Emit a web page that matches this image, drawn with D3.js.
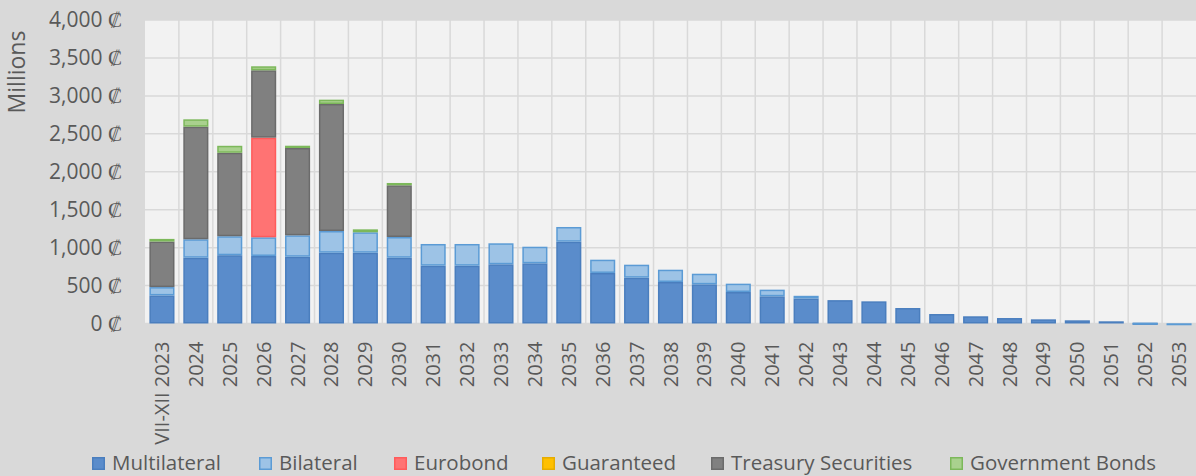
<!DOCTYPE html>
<html>
<head>
<meta charset="utf-8">
<script src="https://cdn.jsdelivr.net/npm/d3@7"></script>
<style>
  html, body { margin: 0; padding: 0; background: #D9D9D9; }
  svg { display: block; font-family: "Open Sans", sans-serif; }
</style>
</head>
<body>
<svg id="chart" width="1196" height="476"></svg>
<script>
const categories = ["VII-XII 2023","2024","2025","2026","2027","2028","2029","2030","2031","2032",
  "2033","2034","2035","2036","2037","2038","2039","2040","2041","2042","2043","2044","2045",
  "2046","2047","2048","2049","2050","2051","2052","2053"];
const multilateral = [370, 867, 900, 890, 880, 933, 933, 867, 762, 762, 780, 793, 1078, 666, 604, 547, 516, 415, 358, 330, 308, 292, 204, 125, 95, 72, 55, 42, 29, 9, 0];
const bilateral =    [110, 243, 250, 246, 282, 286, 269, 273, 286, 286, 277, 219, 194, 175, 171, 162, 140, 110, 88, 35, 0, 0, 0, 0, 0, 0, 0, 0, 0, 2, 3];
const eurobond =     [0, 0, 0, 1313, 0, 0, 0, 0, 0, 0, 0, 0, 0, 0, 0, 0, 0, 0, 0, 0, 0, 0, 0, 0, 0, 0, 0, 0, 0, 0, 0];
const guaranteed =   [0, 0, 0, 0, 0, 0, 0, 0, 0, 0, 0, 0, 0, 0, 0, 0, 0, 0, 0, 0, 0, 0, 0, 0, 0, 0, 0, 0, 0, 0, 0];
const treasury =     [600, 1484, 1100, 888, 1151, 1674, 0, 681, 0, 0, 0, 0, 0, 0, 0, 0, 0, 0, 0, 0, 0, 0, 0, 0, 0, 0, 0, 0, 0, 0, 0];
const govBonds =     [35, 97, 92, 53, 30, 57, 39, 31, 0, 0, 0, 0, 0, 0, 0, 0, 0, 0, 0, 0, 0, 0, 0, 0, 0, 0, 0, 0, 0, 0, 0];
const seriesNames = ["Multilateral","Bilateral","Eurobond","Guaranteed","Treasury Securities","Government Bonds"];
const yTicks = [0, 500, 1000, 1500, 2000, 2500, 3000, 3500, 4000];

const fills   = ["#5A8CCB", "#9DC3E6", "#FF7373", "#FFC000", "#808080", "#A9D18E"];
const strokes = ["#4A7EBE", "#5B9BD5", "#FF5B5B", "#E6AC00", "#6B6B6B", "#7CB85A"];

const seriesData = [multilateral, bilateral, eurobond, guaranteed, treasury, govBonds];
const rows = categories.map((c, i) => {
  const r = { cat: c };
  seriesNames.forEach((s, k) => r[s] = seriesData[k][i]);
  return r;
});
const stacked = d3.stack().keys(seriesNames)(rows);

const svg = d3.select("#chart");
const m = { left: 145, right: 0, top: 20, bottom: 152 };
const W = 1196, H = 476;
const x = d3.scaleBand().domain(categories).range([m.left, W - m.right]).paddingInner(0.26).paddingOuter(0.13);
const y = d3.scaleLinear().domain([0, 4000]).range([323.5, m.top]);

// plot area
svg.append("rect").attr("x", m.left).attr("y", y(4000)).attr("width", W - m.right - m.left)
  .attr("height", y(0) - y(4000)).attr("fill", "#F2F2F2");

// gridlines
const step = x.step();
const gx = svg.append("g");
gx.selectAll("line.h").data(yTicks).join("line")
  .attr("x1", m.left).attr("x2", W - m.right)
  .attr("y1", d => y(d)).attr("y2", d => y(d))
  .attr("stroke", "#D9D9D9").attr("stroke-width", 1.5);
gx.selectAll("line.v").data(categories.slice(1)).join("line")
  .attr("x1", d => x(d) - step * 0.13).attr("x2", d => x(d) - step * 0.13)
  .attr("y1", y(4000)).attr("y2", y(0))
  .attr("stroke", "#D9D9D9").attr("stroke-width", 1.5);

// bars
const bw = x.bandwidth();
svg.append("g").selectAll("g").data(stacked).join("g")
  .each(function(layer, k) {
    d3.select(this).selectAll("rect").data(layer.filter(d => d[1] - d[0] > 0)).join("rect")
      .attr("x", d => x(d.data.cat) + 0.75)
      .attr("width", bw - 1.5)
      .attr("y", d => y(d[1]) + 0.75)
      .attr("height", d => Math.max(0.5, y(d[0]) - y(d[1]) - 1.5))
      .attr("fill", fills[k])
      .attr("stroke", strokes[k])
      .attr("stroke-width", 1.5);
  });

// y axis labels
const yAxis = d3.axisLeft(y).tickValues(yTicks).tickSize(0).tickPadding(0)
  .tickFormat(d => d3.format(",")(d) + " \u20A1");
const ya = svg.append("g").attr("transform", `translate(122,0)`).call(yAxis);
ya.select(".domain").remove();
ya.selectAll("text").attr("font-size", 21).attr("fill", "#595959").attr("font-family", "Open Sans");

// y title
svg.append("text").attr("transform", "translate(25,72) rotate(-90)")
  .attr("text-anchor", "middle").attr("font-size", 23).attr("fill", "#595959").text("Millions");

// x axis labels
const xAxis = d3.axisBottom(x).tickSize(0).tickPadding(0);
const xa = svg.append("g").attr("transform", `translate(0,${y(0)})`).call(xAxis);
xa.select(".domain").remove();
xa.selectAll("text")
  .attr("font-size", 20).attr("fill", "#595959").attr("font-family", "Open Sans")
  .attr("text-anchor", "end")
  .attr("transform", "rotate(-90)")
  .attr("x", -18).attr("y", 0).attr("dy", "0.35em");

// legend
const legendX = [92, 259, 394, 542, 711, 950];
const lg = svg.append("g");
seriesNames.forEach((s, k) => {
  lg.append("rect").attr("x", legendX[k] + 0.75).attr("y", 457.75).attr("width", 11.5).attr("height", 11.5)
    .attr("fill", fills[k]).attr("stroke", strokes[k]).attr("stroke-width", 1.5);
  lg.append("text").attr("x", legendX[k] + 20).attr("y", 469.5).attr("font-size", 20.5)
    .attr("fill", "#595959").text(s);
});
</script>
</body>
</html>
